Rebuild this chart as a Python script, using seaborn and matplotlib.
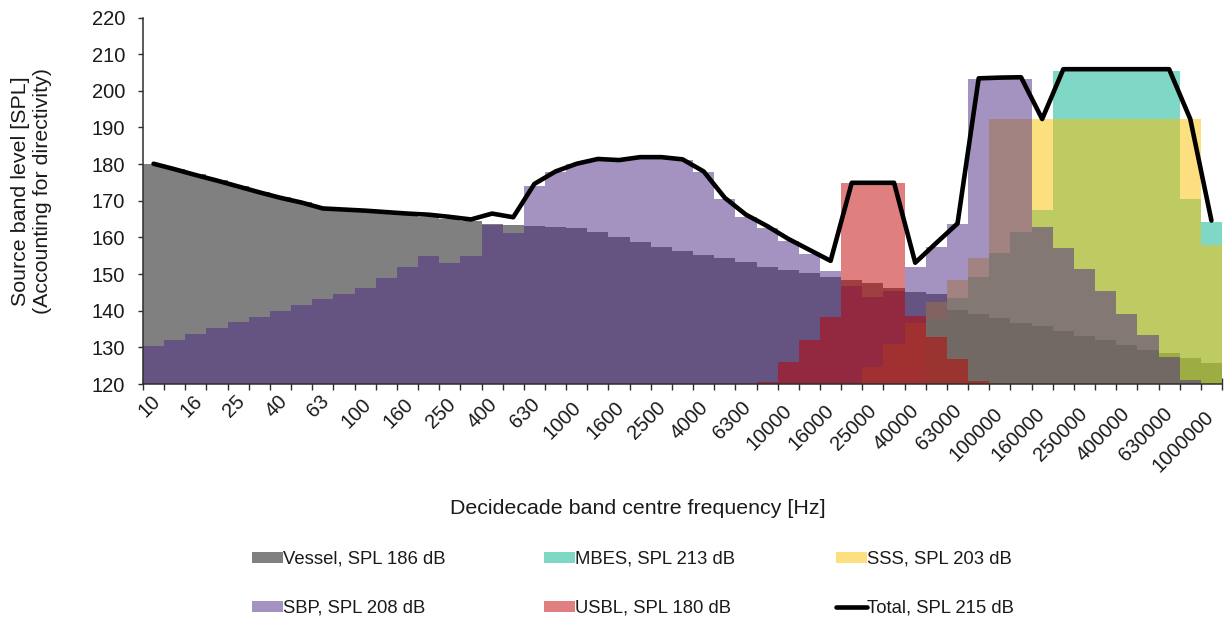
import numpy as np
import matplotlib
matplotlib.use("Agg")
import matplotlib.pyplot as plt
from matplotlib.patches import Patch
from matplotlib.lines import Line2D
from matplotlib.transforms import offset_copy
import seaborn as sns

# Decidecade band centre frequencies [Hz]
freqs = [10, 12.5, 16, 20, 25, 31.5, 40, 50, 63, 80,
         100, 125, 160, 200, 250, 315, 400, 500, 630, 800,
         1000, 1250, 1600, 2000, 2500, 3150, 4000, 5000, 6300, 8000,
         10000, 12500, 16000, 20000, 25000, 31500, 40000, 50000, 63000, 80000,
         100000, 125000, 160000, 200000, 250000, 315000, 400000, 500000, 630000, 800000,
         1000000]
tick_labels = ["10", "16", "25", "40", "63", "100", "160", "250", "400", "630",
               "1000", "1600", "2500", "4000", "6300", "10000", "16000", "25000",
               "40000", "63000", "100000", "160000", "250000", "400000", "630000",
               "1000000"]

N = None  # band not present (below the axis floor)

vessel = [180.0, 178.6, 177.2, 175.7, 174.1, 172.5, 171.0, 169.6, 168.0, 167.6,
          167.3, 166.9, 166.3, 165.7, 165.1, 164.4, 163.6, 163.4, 163.1, 162.9,
          162.7, 161.6, 160.2, 158.7, 157.5, 156.3, 155.2, 154.3, 153.4, 152.0,
          151.1, 150.2, 149.3, 148.4, 147.5, 146.2, 145.2, 144.5, 140.2, 139.0,
          137.9, 136.6, 135.8, 134.5, 133.2, 131.9, 130.7, 129.3, 128.4, 127.0,
          125.6]

mbes = [N] * 37 + [137.6, 143.4, 149.3, 155.7, 161.6, 167.5,
                   205.5, 205.5, 205.5, 205.5, 205.5, 205.5, 170.4, 164.1]

sss = [N] * 34 + [124.7, 130.8, 136.6, 142.5, 148.4, 154.3,
                  192.2, 192.2, 192.2, 192.2, 192.2, 192.2, 192.2, 192.2, 192.2, 192.2,
                  157.9]

sbp = [130.4, 132.0, 133.6, 135.2, 136.8, 138.4, 139.9, 141.5, 143.1, 144.6,
       146.2, 149.0, 151.8, 154.9, 153.1, 154.9, 163.3, 161.3, 174.1, 177.8,
       179.9, 181.3, 181.0, 181.7, 181.7, 181.2, 177.8, 170.4, 165.7, 162.5,
       159.1, 155.4, 150.8, 146.7, 143.8, 145.4, 151.8, 157.5, 163.6, 203.2,
       203.2, 203.2, 162.9, 157.2, 151.3, 145.3, 139.0, 133.4, 127.5, 121.1,
       N]

usbl = [N] * 29 + [120.6, 126.1, 132.0, 138.4, 174.9, 174.9, 174.9,
                   138.6, 132.7, 126.7, 120.7] + [N] * 11

total = [180.1, 178.6, 177.0, 175.5, 173.9, 172.3, 170.8, 169.5, 167.9, 167.6,
         167.3, 166.9, 166.5, 166.2, 165.6, 164.9, 166.5, 165.5, 174.6, 178.0,
         180.1, 181.4, 181.1, 181.9, 181.9, 181.3, 178.0, 170.8, 166.2, 163.1,
         159.6, 156.6, 153.6, 174.9, 174.9, 174.9, 153.1, 158.5, 163.8, 203.4,
         203.6, 203.7, 192.3, 205.9, 205.9, 205.9, 205.9, 205.9, 205.9, 192.3,
         164.6]

labels = ["Vessel, SPL 186 dB", "MBES, SPL 213 dB", "SSS, SPL 203 dB",
          "SBP, SPL 208 dB", "USBL, SPL 180 dB", "Total, SPL 215 dB"]

sns.set_theme(style="white")
plt.rcParams["font.family"] = ["Liberation Sans", "DejaVu Sans"]
TXT = "#1a1a1a"
AXC = "#2e2e2e"

Y0, Y1 = 120, 220
fig = plt.figure(figsize=(12.24, 6.19), dpi=100)
W, H = 1224, 619
ax = fig.add_axes([143 / W, 1 - 384 / H, (1222 - 143) / W, (384 - 17.5) / H])

edges = np.arange(len(freqs) + 1) - 0.5


def floor(vals):
    return np.array([Y0 if v is None else v for v in vals], dtype=float)


# source spectra as filled steps, drawn back to front
layers = [
    (vessel, "#808080", 1.0),
    (mbes, "#00b18f", 0.5),
    (sss, "#fbc100", 0.5),
    (sbp, "#4b2785", 0.5),
    (usbl, "#c00000", 0.5),
]
for vals, col, a in layers:
    ax.stairs(floor(vals), edges, baseline=Y0, fill=True, color=col,
              alpha=a, linewidth=0)

x_idx = np.arange(len(freqs))
sns.lineplot(x=x_idx, y=total, color="black", linewidth=3.3, ax=ax,
             legend=False)
for ln in ax.lines:
    ln.set_solid_joinstyle("round")

ax.set_xlim(-0.5, len(freqs) - 0.5)
ax.set_ylim(Y0, Y1)
ax.set_yticks(np.arange(Y0, Y1 + 1, 10))
ax.set_xticks(x_idx[::2])
ax.set_xticks(edges, minor=True)

for s in ["top", "right"]:
    ax.spines[s].set_visible(False)
for s in ["left", "bottom"]:
    ax.spines[s].set_color(AXC)
    ax.spines[s].set_linewidth(1.1)

ax.tick_params(axis="y", direction="out", length=3.6, width=1.0,
               color=AXC, pad=9.4, labelsize=14.5, labelcolor=TXT,
               left=True)
ax.tick_params(axis="x", which="major", length=0, labelbottom=False,
               bottom=True)
ax.tick_params(axis="x", which="minor", direction="inout", length=8,
               width=1.0, color=AXC, bottom=True)
ax.set_xlabel("")
ax.set_ylabel("")

# rotated band labels, anchored at their right end below each labelled band
base = ax.get_xaxis_transform()
for i, lab in zip(x_idx[::2], tick_labels):
    n = len(lab)
    tr = offset_copy(base, fig=fig, x=3.5 - 0.9 * (n - 2),
                     y=-(14 + 3.2 * (n - 2)), units="dots")
    ax.text(i, 0, lab, transform=tr, rotation=45, ha="right", va="center",
            rotation_mode="anchor", fontsize=14.5, color=TXT, clip_on=False)

fig.text(638 / W, 1 - 508 / H, "Decidecade band centre frequency [Hz]",
         ha="center", va="center", fontsize=15.4, color=TXT)
fig.text(32 / W, 1 - 191 / H,
         "Source band level [SPL]\n(Accounting for directivity)",
         ha="center", va="center", rotation=90, fontsize=15.4, color=TXT,
         multialignment="center", linespacing=1.2)

# legend: three columns of two entries
handles = [
    Patch(facecolor="#808080", edgecolor="none"),
    Patch(facecolor="#00b18f", alpha=0.5, edgecolor="none"),
    Patch(facecolor="#fbc100", alpha=0.5, edgecolor="none"),
    Patch(facecolor="#4b2785", alpha=0.5, edgecolor="none"),
    Patch(facecolor="#c00000", alpha=0.5, edgecolor="none"),
    Line2D([], [], color="black", linewidth=3.3),
]
col_x = [252, 544, 836]
for c in range(3):
    fig.legend(handles=[handles[c], handles[c + 3]],
               labels=[labels[c], labels[c + 3]],
               loc="upper left", bbox_to_anchor=(col_x[c] / W, 1 - 551 / H),
               frameon=False, fontsize=13.3, handlelength=1.68,
               handleheight=0.55, handletextpad=0.0, borderpad=0,
               borderaxespad=0, labelspacing=1.72, labelcolor=TXT)

fig.savefig("out.png", dpi=100, facecolor="white")
